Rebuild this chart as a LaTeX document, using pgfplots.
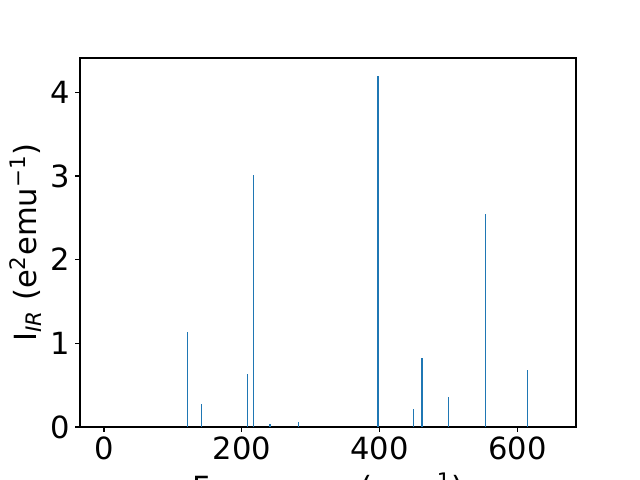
\documentclass[border=0pt]{standalone}
\usepackage{pgfplots}
\pgfplotsset{compat=1.18}
\usepackage{fontspec}
\setmainfont{DejaVu Sans}
\definecolor{mplblue}{RGB}{31,119,180}
\begin{document}
\fontsize{22}{26}\selectfont
\begin{tikzpicture}
\begin{axis}[
  at={(0,0)}, anchor=south west,
  width=357.12pt, height=265.68pt, scale only axis,
  xmin=-34.8, xmax=685.1, ymin=0, ymax=4.41,
  xtick={0,200,400,600}, ytick={0,1,2,3,4},
  tick align=outside, major tick length=3.5pt,
  every tick/.style={line width=0.8pt, black},
  axis line style={line width=0.8pt},
  xtick pos=bottom, ytick pos=left,
  /pgf/number format/assume math mode=true,
  xticklabel style={inner sep=0pt, yshift=-3.5pt, font=\fontsize{22}{26}\selectfont},
  yticklabel style={inner sep=0pt, xshift=-3.5pt, font=\fontsize{22}{26}\selectfont},
  xlabel={Frequency (cm\textsuperscript{−1})},
  ylabel={I\textsubscript{\textit{IR}} (e\textsuperscript{2}emu\textsuperscript{−1})},
  xlabel style={at={(axis description cs:0.5,-0.1943)}, anchor=base, inner sep=0pt, font=\fontsize{22}{26}\selectfont},
  ylabel style={at={(axis description cs:-0.0887,0.5)}, anchor=base, rotate=0, inner sep=0pt, font=\fontsize{22}{26}\selectfont},
  clip=true,
]
\addplot[ycomb, mplblue, line width=0.65pt, mark=none] coordinates {
  (120.5,1.138) (141.4,0.279) (208.2,0.636) (216.9,3.01)
  (282.2,0.063) (449.2,0.219) (500.0,0.362) (553.8,2.547) (614.4,0.684)
};
\addplot[ycomb, mplblue, line width=1.4pt, mark=none] coordinates {
  (240.6,0.04) (397.9,4.2) (461.4,0.827)
};
\end{axis}
\pgfresetboundingbox
\path[use as bounding box] (-57.6pt,-38.16pt) rectangle (403.2pt,307.44pt);
\end{tikzpicture}
\end{document}
